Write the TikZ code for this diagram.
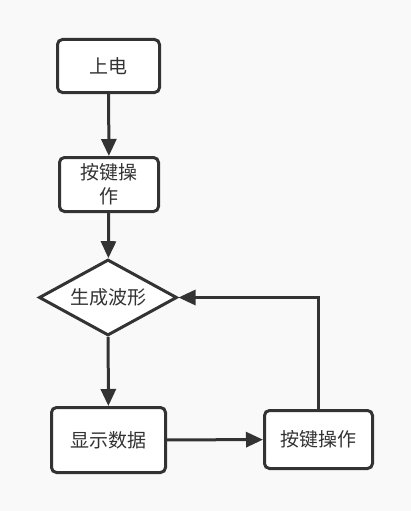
\documentclass[tikz,border=0pt]{standalone}
\usepackage{fontspec}
\setmainfont{Noto Sans CJK SC}
\usetikzlibrary{shapes.geometric,arrows.meta}
\definecolor{ink}{HTML}{333333}
\definecolor{paper}{HTML}{F9F9F9}
\tikzset{
  stepbox/.style={draw=ink, fill=white, line width=3pt, rounded corners=5pt, inner sep=0pt, align=center, text=ink, font=\fontsize{19}{24}\selectfont},
  choice/.style={draw=ink, fill=white, line width=3pt, diamond, aspect=1.78, inner sep=0pt, minimum width=138pt, minimum height=76pt, text=ink, font=\fontsize{19}{24}\selectfont},
  arr/.style={draw=ink, line width=3pt, -{Triangle[length=17pt, width=15pt]}}
}
\begin{document}
\begin{tikzpicture}[x=1pt, y=1pt]
\fill[paper] (0,0) rectangle (411,-511);
\useasboundingbox (0,0) rectangle (411,-511);
\node[stepbox, minimum width=102pt, minimum height=53pt] (power) at (108.5,-66) {上电};
\node[stepbox, minimum width=99pt, minimum height=54pt] (key) at (109,-184.5) {按键操\\作};
\node[choice] (wave) at (108,-297.5) {生成波形};
\node[stepbox, minimum width=114pt, minimum height=65pt] (show) at (108.5,-440) {显示数据};
\node[stepbox, minimum width=108pt, minimum height=58pt] (key2) at (318.5,-439.5) {按键操作};
\draw[arr] (power) -- (key);
\draw[arr] (key) -- (wave);
\draw[arr] (wave) -- (show);
\draw[arr] (show) -- (key2);
\draw[arr] (key2.north) |- (wave.east);
\end{tikzpicture}
\end{document}
